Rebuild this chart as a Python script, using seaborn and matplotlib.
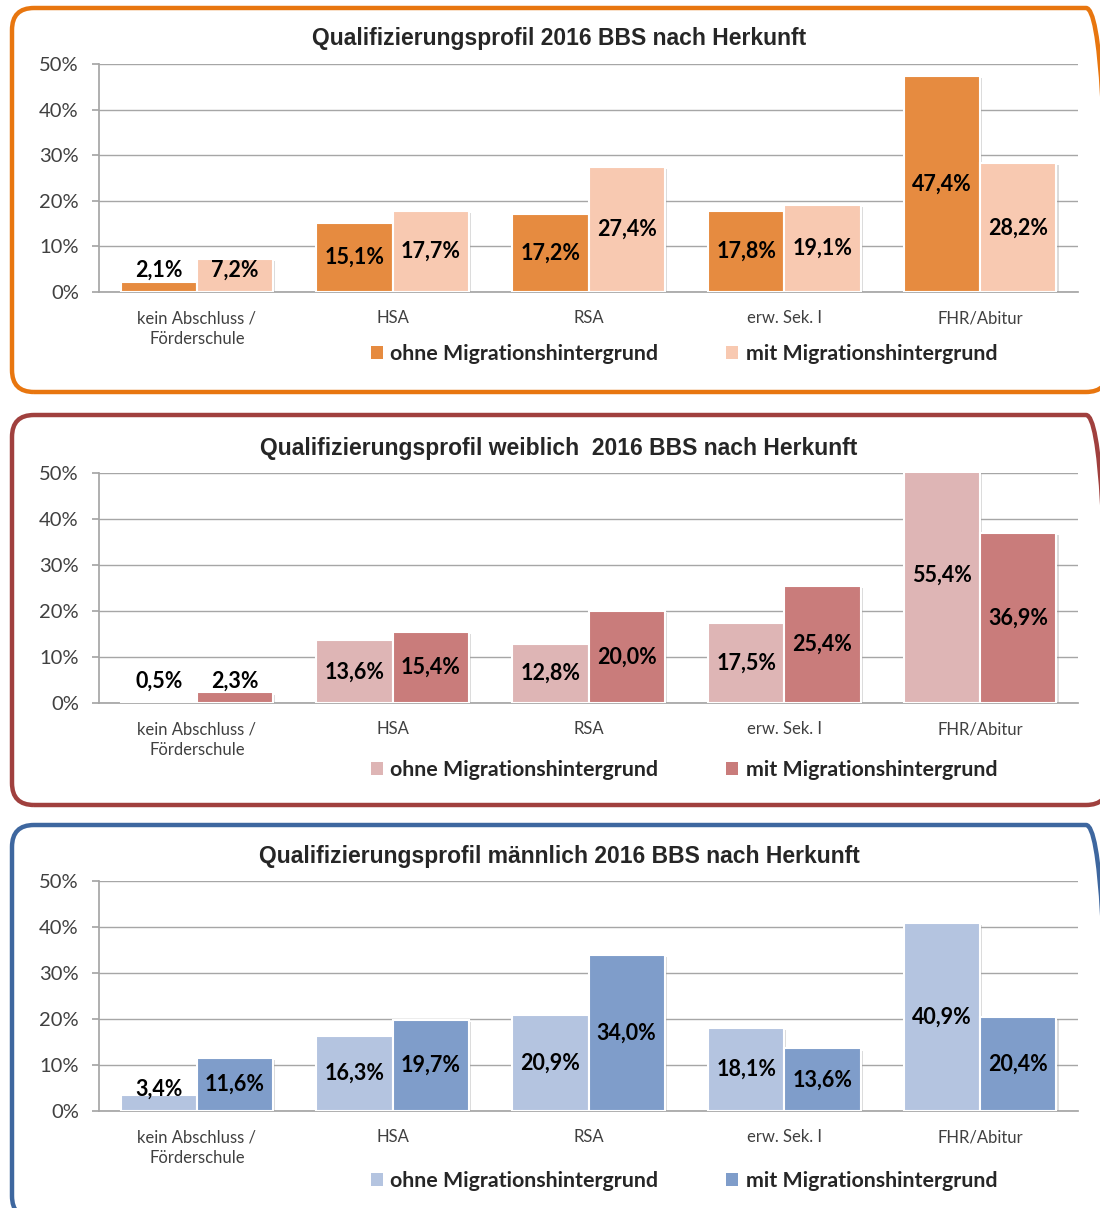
import pandas as pd
import matplotlib.pyplot as plt
import matplotlib.patheffects as pe
from matplotlib.patches import FancyBboxPatch, Patch
from matplotlib.ticker import PercentFormatter
import seaborn as sns

# ── Data ──────────────────────────────────────
categories = ['kein Abschluss /\nFörderschule', 'HSA', 'RSA', 'erw. Sek. I', 'FHR/Abitur']
groups = ['ohne Migrationshintergrund', 'mit Migrationshintergrund']

gesamt_ohne = [2.1, 15.1, 17.2, 17.8, 47.4]
gesamt_mit = [7.2, 17.7, 27.4, 19.1, 28.2]
weiblich_ohne = [0.5, 13.6, 12.8, 17.5, 55.4]
weiblich_mit = [2.3, 15.4, 20.0, 25.4, 36.9]
maennlich_ohne = [3.4, 16.3, 20.9, 18.1, 40.9]
maennlich_mit = [11.6, 19.7, 34.0, 13.6, 20.4]

titles = ['Qualifizierungsprofil 2016 BBS nach Herkunft',
          'Qualifizierungsprofil weiblich  2016 BBS nach Herkunft',
          'Qualifizierungsprofil männlich 2016 BBS nach Herkunft']

# ── Style ─────────────────────────────────────
sns.set_theme(style='white')
plt.rcParams['font.family'] = ['Lato', 'DejaVu Sans']

W, H = 1100, 1208
fig = plt.figure(figsize=(W / 100, H / 100), dpi=100)

# panel layout in pixels
panels = [
    dict(ohne=gesamt_ohne, mit=gesamt_mit, colors=['#E68B40', '#F8C9B1'],
         border='#E8760F', box=(8, 392), ax=(64, 292), leg=354, title=38),
    dict(ohne=weiblich_ohne, mit=weiblich_mit, colors=['#DEB5B5', '#C97C7B'],
         border='#A0403E', box=(415, 805), ax=(473, 703), leg=770, title=448),
    dict(ohne=maennlich_ohne, mit=maennlich_mit, colors=['#B4C4E0', '#7F9DCA'],
         border='#3E679F', box=(825, 1218), ax=(881, 1111), leg=1181, title=856),
]

x_left, x_right = 99, 1078

for p, title in zip(panels, titles):
    # rounded frame around each chart
    top, bot = p['box']
    frame = FancyBboxPatch((12 / W, 1 - bot / H), (1108 - 12) / W, (bot - top) / H,
                           boxstyle='round,pad=0,rounding_size=0.02',
                           transform=fig.transFigure, facecolor='none',
                           edgecolor=p['border'], linewidth=3.2, zorder=-1,
                           mutation_aspect=W / H)
    fig.patches.append(frame)

    a_top, a_bot = p['ax']
    ax = fig.add_axes([x_left / W, 1 - a_bot / H, (x_right - x_left) / W, (a_bot - a_top) / H])
    ax.patch.set_alpha(0)

    df = pd.DataFrame({
        'Abschluss': categories * 2,
        'Gruppe': [groups[0]] * 5 + [groups[1]] * 5,
        'Anteil': p['ohne'] + p['mit'],
    })
    sns.barplot(data=df, x='Abschluss', y='Anteil', hue='Gruppe',
                order=categories, hue_order=groups, palette=p['colors'],
                saturation=1, width=0.78, edgecolor='white', linewidth=1.5,
                legend=False, ax=ax, zorder=3)

    for bar in ax.patches:
        bar.set_path_effects([pe.SimplePatchShadow(offset=(1.5, -1.5), shadow_rgbFace='#999999', alpha=0.35),
                              pe.Normal()])

    for cont, vals in zip(ax.containers, [p['ohne'], p['mit']]):
        for bar, v in zip(cont, vals):
            ax.text(bar.get_x() + bar.get_width() / 2, max(v / 2, 4.8),
                    f'{v:.1f}%'.replace('.', ','), ha='center', va='center',
                    fontsize=15.5, fontweight='bold', color='black', zorder=5)

    ax.set_ylim(0, 50)
    ax.set_xlim(-0.5, 4.5)
    ax.set_yticks([0, 10, 20, 30, 40, 50])
    ax.yaxis.set_major_formatter(PercentFormatter(xmax=100, decimals=0))
    ax.grid(axis='y', color='#A6A6A6', linewidth=1.0, zorder=0)
    ax.set_axisbelow(True)
    for s in ['top', 'right']:
        ax.spines[s].set_visible(False)
    ax.spines['left'].set_color('#A6A6A6')
    ax.spines['bottom'].set_color('#A6A6A6')
    ax.tick_params(axis='y', left=True, length=5, color='#A6A6A6', pad=9.5,
                   labelsize=14.5, labelcolor='#404040')
    ax.tick_params(axis='x', bottom=False, pad=7, labelsize=12, labelcolor='#404040')
    for lbl in ax.get_xticklabels():
        lbl.set_linespacing(1.4)
    ax.set_xlabel('')
    ax.set_ylabel('')

    fig.text(559 / W, 1 - p['title'] / H, title, ha='center', va='center',
             fontsize=16.5, fontweight='bold', family=['Liberation Sans', 'DejaVu Sans'])

    handles = [Patch(facecolor=c, edgecolor='none') for c in p['colors']]
    fig.legend(handles, groups, loc='center', bbox_to_anchor=(684 / W, 1 - p['leg'] / H),
               ncol=2, frameon=False, handlelength=0.55, handleheight=0.55,
               handletextpad=0.35, columnspacing=3.2,
               prop={'weight': 'bold', 'size': 15.4})

plt.savefig('out.png', dpi=100)
plt.close()
